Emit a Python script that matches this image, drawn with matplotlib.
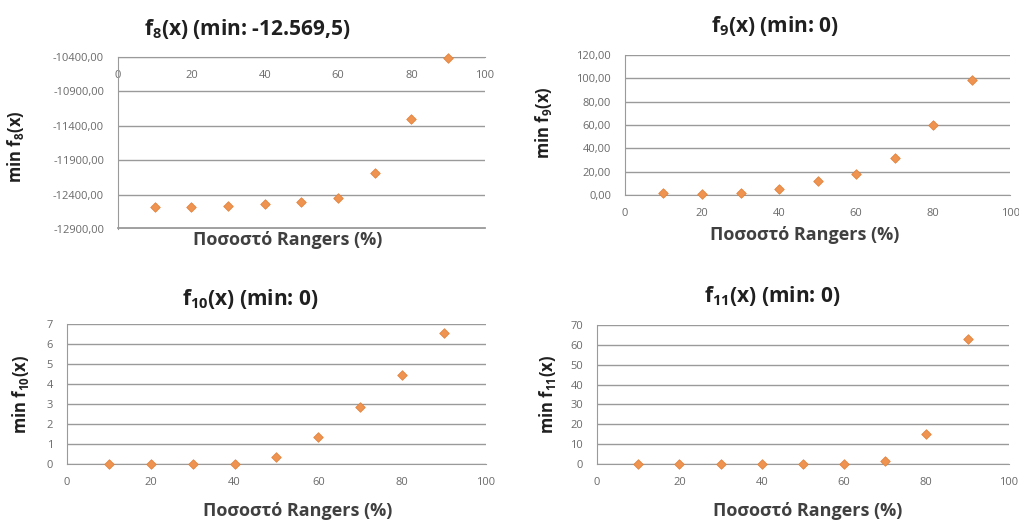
import numpy as np
import matplotlib.pyplot as plt
from matplotlib.ticker import FuncFormatter, MultipleLocator

# ------------------- data -------------------
RANGERS_PCT = [10, 20, 30, 40, 50, 60, 70, 80, 90]

F8_MIN  = [-12575, -12575, -12572, -12540, -12508, -12450, -12090, -11300, -10410]
F9_MIN  = [1.5, 0.8, 1.5, 5.0, 11.7, 18.0, 32.0, 60.0, 98.6]
F10_MIN = [0.0, 0.0, 0.0, 0.02, 0.33, 1.33, 2.83, 4.47, 6.55]
F11_MIN = [0.0, 0.0, 0.0, 0.0, 0.0, 0.0, 1.7, 15.3, 62.8]

TITLES  = ["f$_8$(x) (min: -12.569,5)", "f$_9$(x) (min: 0)",
           "f$_{10}$(x) (min: 0)", "f$_{11}$(x) (min: 0)"]
YLABELS = ["min f$_8$(x)", "min f$_9$(x)", "min f$_{10}$(x)", "min f$_{11}$(x)"]
XLABEL  = "Ποσοστό Rangers (%)"

plt.rcParams['font.family'] = ['Open Sans', 'DejaVu Sans']
plt.rcParams['mathtext.default'] = 'regular'

MARKER_COLOR = "#EE9350"
GRID_COLOR = "#9A9A9A"
TEXT_COLOR = "#404040"
TICK_COLOR = "#6A6A6A"

fig = plt.figure(figsize=(10.19, 5.22), dpi=100)


def comma2(v, pos):
    return f"{v:.2f}".replace(".", ",")


def intfmt(v, pos):
    return f"{v:.0f}"


# (axes rect, ylim, ystep, yfmt, title xy, xlabel xy, ylabel xy)
panels = [
    ([0.1158, 0.5613, 0.360, 0.3295], (-12900, -10400), 500, comma2,
     (0.243, 0.945), (0.282, 0.540), (0.015, 0.718)),
    ([0.6133, 0.6264, 0.378, 0.268], (0, 120), 20, comma2,
     (0.761, 0.950), (0.790, 0.550), (0.533, 0.764)),
    ([0.0658, 0.1111, 0.411, 0.268], (0, 7), 1, intfmt,
     (0.246, 0.427), (0.292, 0.022), (0.020, 0.245)),
    ([0.5859, 0.1111, 0.404, 0.266], (0, 70), 10, intfmt,
     (0.758, 0.433), (0.793, 0.022), (0.537, 0.245)),
]
series = [F8_MIN, F9_MIN, F10_MIN, F11_MIN]

for k, (rect, ylim, ystep, yfmt, txy, xlxy, ylxy) in enumerate(panels):
    ax = fig.add_axes(rect)
    ax.scatter(RANGERS_PCT, series[k], marker="D", s=24, color=MARKER_COLOR,
               edgecolor="#E07E35", linewidth=0.5, zorder=3, clip_on=False)
    ax.set_xlim(0, 100)
    ax.set_ylim(*ylim)
    ax.xaxis.set_major_locator(MultipleLocator(20))
    ax.set_yticks(np.arange(ylim[0], ylim[1] + ystep / 2, ystep))
    ax.yaxis.set_major_formatter(FuncFormatter(yfmt))
    ax.grid(axis="y", color=GRID_COLOR, lw=1.0)
    ax.set_axisbelow(True)
    for s in ["top", "right"]:
        ax.spines[s].set_visible(False)
    ax.spines["left"].set_color(GRID_COLOR)
    ax.spines["bottom"].set_color(GRID_COLOR)
    if k == 0:
        # all values negative: horizontal axis crosses at the top,
        # the lowest gridline stays at the bottom
        ax.spines["bottom"].set_position(("data", ylim[1]))
        ax.axhline(ylim[0] + 8, color=GRID_COLOR, lw=1.3, clip_on=False,
                   zorder=2.5)
    ax.tick_params(length=0, labelsize=8, labelcolor=TICK_COLOR)
    ax.tick_params(axis="x", pad=9)
    ax.tick_params(axis="y", pad=10)

    fig.text(*txy, TITLES[k], ha="center", va="center", fontsize=15,
             fontweight="bold", color="#202020")
    fig.text(*xlxy, XLABEL, ha="center", va="center", fontsize=13,
             fontweight="bold", color=TEXT_COLOR)
    fig.text(*ylxy, YLABELS[k], ha="center", va="center", fontsize=12,
             fontweight="bold", color="#202020", rotation=90)

fig.savefig("out.png", dpi=100, facecolor="white")
